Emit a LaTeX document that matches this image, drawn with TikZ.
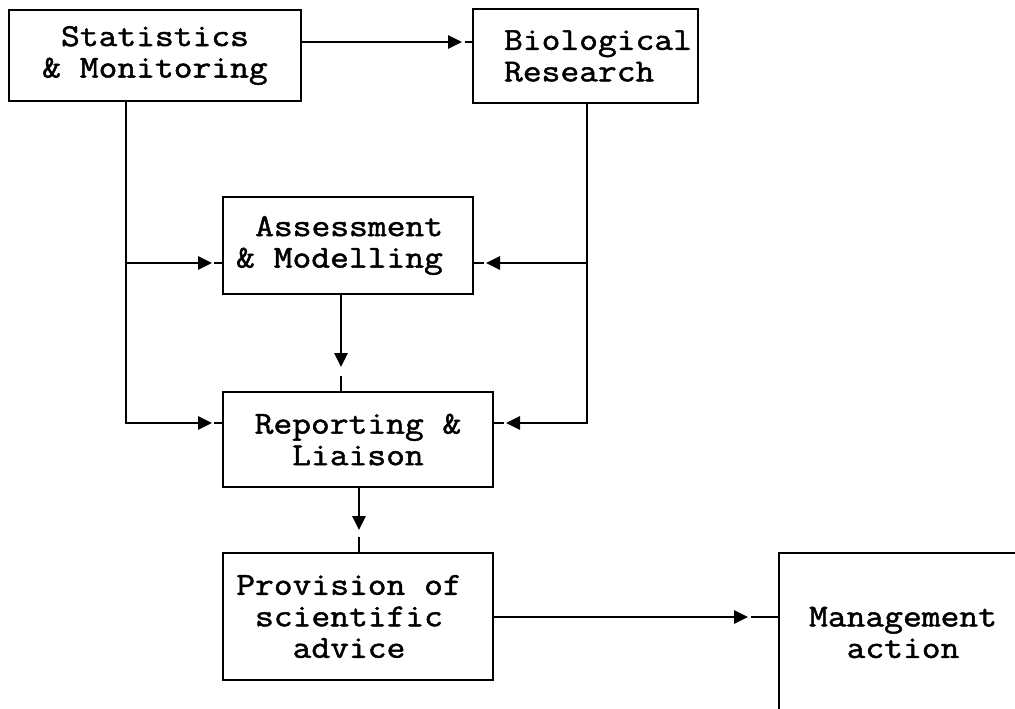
\documentclass[tikz,border=0pt]{standalone}
\usepackage{fontspec}
\newfontfamily\boxfont{Latin Modern Mono}[FakeStretch=1.14,FakeBold=1.5]
\usetikzlibrary{arrows.meta}
\newcommand\pad[1]{\makebox[#1]{}}
\tikzset{
  box/.style={draw, line width=2.8pt, inner sep=0pt, align=center,
    font=\boxfont\fontsize{32pt}{31.5pt}\selectfont},
  conn/.style={line width=2.8pt},
  arr/.style={line width=2.8pt, -{Triangle[length=14pt,width=13pt]}}
}
\begin{document}
\begin{tikzpicture}[x=1pt,y=-1pt]
\useasboundingbox (0,0) rectangle (1015,709);
\fill[white] (0,0) rectangle (1015,709);
\clip (0,0) rectangle (1015,709);

% boxes
\node[box, minimum width=292pt, minimum height=91pt] (stats) at (155,55.5)
  {Statistics\\\& Monitoring};
\node[box, minimum width=225pt, minimum height=94pt, align=left] (bio) at (585.5,56)
  {\pad{25pt}Biological\\\pad{25pt}Research};
\node[box, minimum width=250pt, minimum height=97pt] (assess) at (348,245.5)
  {\pad{19.2pt}Assessment\pad{17pt}\\\& Modelling\pad{17pt}};
\node[box, minimum width=270pt, minimum height=95pt] (report) at (358,439.5)
  {Reporting \&\\Liaison};
\node[box, minimum width=270pt, minimum height=127pt] (prov) at (358,616.5)
  {Provision of\pad{18pt}\\scientific\pad{18pt}\\advice\pad{18pt}};
\node[box, minimum width=248pt, minimum height=159pt] (mgmt) at (903,632.5)
  {Management\\action};

% junction and tip coordinates
\coordinate (t1) at (462,42);
\coordinate (jl1) at (126,263);
\coordinate (jl2) at (126,423);
\coordinate (tl1) at (212,263);
\coordinate (tl2) at (212,423);
\coordinate (jr1) at (587,263);
\coordinate (jr2) at (587,423);
\coordinate (tr1) at (486,263);
\coordinate (tr2) at (506,423);
\coordinate (tv1) at (341,367);
\coordinate (tv2) at (359,530);
\coordinate (th) at (748,617);

% stats -> bio
\draw[arr] (stats.east |- t1) -- (t1);
\draw[conn] (bio.west |- t1) -- +(-7,0);

% left trunk
\draw[arr] (stats.south -| jl1) -- (jl2) -- (tl2);
\draw[arr] (jl1) -- (tl1);
\draw[conn] (assess.west |- tl1) -- +(-8,0);
\draw[conn] (report.west |- tl2) -- +(-8,0);

% right trunk
\draw[arr] (bio.south -| jr1) -- (jr2) -- (tr2);
\draw[arr] (jr1) -- (tr1);
\draw[conn] (assess.east |- tr1) -- +(10,0);
\draw[conn] (report.east |- tr2) -- +(10,0);

% vertical arrows
\draw[arr] (assess.south -| tv1) -- (tv1);
\draw[conn] (report.north -| tv1) -- +(0,-15);
\draw[arr] (report.south -| tv2) -- (tv2);
\draw[conn] (prov.north -| tv2) -- +(0,-15);

% provision -> management
\draw[arr] (prov.east |- th) -- (th);
\draw[conn] (mgmt.west |- th) -- +(-27,0);
\end{tikzpicture}
\end{document}
